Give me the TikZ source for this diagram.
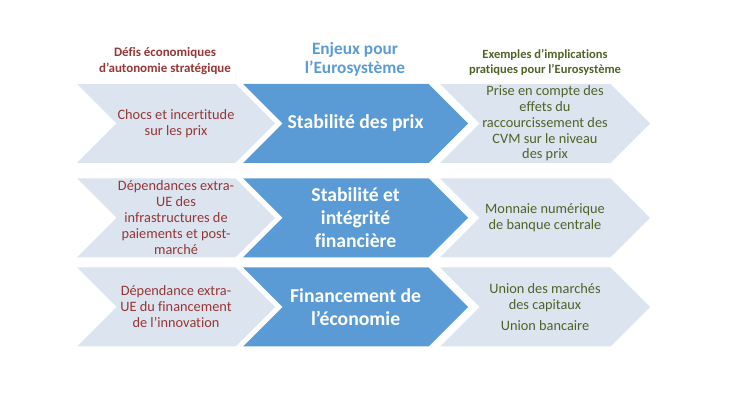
\documentclass[tikz,border=0pt]{standalone}
\usepackage{fontspec}
\setmainfont{Carlito}[Ligatures=NoCommon]
\usetikzlibrary{shapes.symbols}

\definecolor{lightchev}{HTML}{DCE4F0}
\definecolor{bluechev}{HTML}{5B9BD5}
\definecolor{darkred}{HTML}{953735}
\definecolor{darkgreen}{HTML}{4F6228}
\definecolor{headblue}{HTML}{5B9BD5}

\begin{document}
\begin{tikzpicture}[
  chev/.style={
    shape=signal, signal from=west, signal to=east,
    signal pointer angle=90, draw=none, inner sep=0pt, outer sep=0pt,
    minimum height=1.975cm, align=center
  },
  defi/.style={chev, fill=lightchev, minimum width=4.95cm,
    text=darkred, font=\fontsize{10.2}{11.4}\selectfont},
  enjeu/.style={chev, fill=bluechev, minimum width=5.625cm,
    text=white, font=\fontsize{14}{16.4}\selectfont\bfseries},
  exemple/.style={chev, fill=lightchev, minimum width=5.25cm,
    text=darkgreen, font=\fontsize{10.2}{11.2}\selectfont},
  entete/.style={align=center, inner sep=0pt}
]
\useasboundingbox (0,0) rectangle (18.25,10.25);

% --- Column headers ---
\node[entete, text=darkred, font=\fontsize{9.2}{10.8}\selectfont\bfseries]
  (hdefi) at (4.125, 8.725) {Défis économiques\\d’autonomie stratégique};
\node[entete, text=headblue, font=\fontsize{12.3}{13.8}\selectfont\bfseries]
  (henjeu) at (8.875, 8.775) {Enjeux pour\\l’Eurosystème};
\node[entete, text=darkgreen, font=\fontsize{8.9}{10.8}\selectfont\bfseries]
  (hexemple) at (13.625, 8.69) {Exemples d’implications\\pratiques pour l’Eurosystème};

% --- Row 1 ---
\node[defi]    (d1) at (4.4, 7.1625)   {Chocs et incertitude\\sur les prix};
\node[exemple] (x1) at (13.625, 7.1625) {Prise en compte des\\effets du\\raccourcissement des\\CVM sur le niveau\\des prix};
\node[enjeu]   (e1) at (8.89, 7.1625)  {Stabilité des prix};

% --- Row 2 ---
\node[defi]    (d2) at (4.4, 4.805)    {Dépendances extra-\\UE des\\infrastructures de\\paiements et post-\\marché};
\node[exemple] (x2) at (13.625, 4.805) {Monnaie numérique\\de banque centrale};
\node[enjeu]   (e2) at (8.89, 4.805)   {Stabilité et\\intégrité\\financière};

% --- Row 3 ---
\node[defi]    (d3) at (4.4, 2.575)    {Dépendance extra-\\UE du financement\\de l’innovation};
\node[exemple] (x3) at (13.625, 2.575) {Union des marchés\\des capitaux\\[4pt]Union bancaire};
\node[enjeu]   (e3) at (8.89, 2.575)   {Financement de\\l’économie};

\end{tikzpicture}
\end{document}
